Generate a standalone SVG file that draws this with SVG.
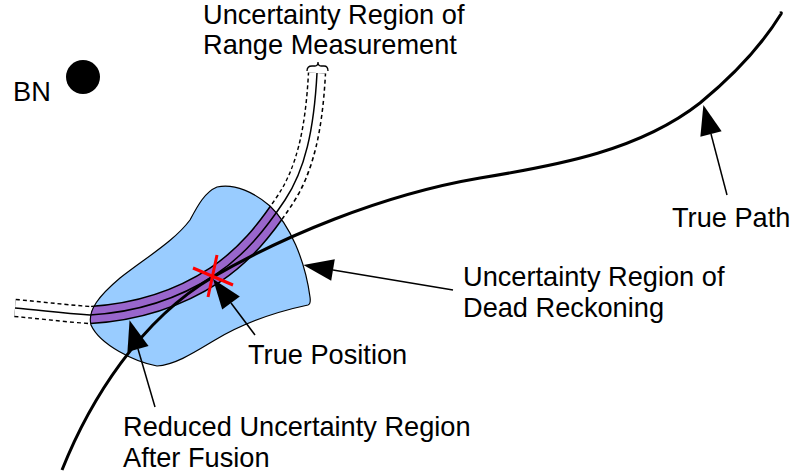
<svg xmlns="http://www.w3.org/2000/svg" width="794" height="476" viewBox="0 0 794 476">
<style>
text { font-family: "Liberation Sans", Arial, sans-serif; font-size: 27.2px; fill: #000; }
.lead { stroke: #000; stroke-width: 1.5; fill: none; marker-end: url(#tri); }
</style>
<defs>
<marker id="tri" markerUnits="userSpaceOnUse" markerWidth="32" markerHeight="24" refX="0" refY="11" orient="auto" overflow="visible">
<path d="M0,0 L30,11 L0,22 Z" fill="#000"/>
</marker>
<path id="blobShape" d="M 217,187 C 235,183 255,193 270,206 C 290,225 305,260 310,297 Q 311,304 308,305 C 275,312 245,322 215,340 C 195,352 175,365 157,366 C 135,362 100,345 91,325 C 87,310 100,295 120,278 C 150,255 175,240 190,220 C 198,205 205,192 217,187 Z"/>
<path id="rangeCurve" d="M 15,308 C 40,310 60,313 90,315 C 140,312 180,298 215,275 C 245,255 265,230 285,200 C 305,170 314,130 317,73"/>
<clipPath id="blobClip"><use href="#blobShape"/></clipPath>
</defs>

<g id="range-measurement">
<use href="#rangeCurve" fill="none" stroke="#000" stroke-width="18.5" stroke-dasharray="4 3"/>
<use href="#rangeCurve" fill="none" stroke="#fff" stroke-width="15.5"/>
<use href="#rangeCurve" fill="none" stroke="#000" stroke-width="1.5"/>
<path d="M 307,71 Q 307,66 312,66 L 315,66 Q 318,66 318,62 Q 318,66 321,66 L 324,66 Q 328,66 328,71" fill="none" stroke="#000" stroke-width="1.3"/>
</g>

<g id="dead-reckoning-region">
<use href="#blobShape" fill="#99ccff"/>
</g>

<g id="fused-region" clip-path="url(#blobClip)">
<use href="#rangeCurve" fill="none" stroke="#000" stroke-width="18.5"/>
<use href="#rangeCurve" fill="none" stroke="#9966cc" stroke-width="15.5"/>
<use href="#rangeCurve" fill="none" stroke="#000" stroke-width="1.5"/>
</g>

<g id="dead-reckoning-outline">
<use href="#blobShape" fill="none" stroke="#000" stroke-width="1.2"/>
</g>

<g id="true-path">
<path d="M 62,470 C 90,400 140,320 213,277 C 280,238 380,195 480,178 C 560,165 640,150 700,103 C 740,70 765,40 781,14 Q 782,12 780,13" fill="none" stroke="#000" stroke-width="3"/>
</g>

<g id="true-position">
<line x1="193" y1="268" x2="233" y2="285" stroke="#ff0000" stroke-width="3"/>
<line x1="217" y1="255" x2="208" y2="297" stroke="#ff0000" stroke-width="3"/>
</g>

<g id="bn">
<circle cx="83" cy="77" r="17" fill="#000"/>
<text x="13" y="101">BN</text>
</g>

<g id="connectors">
<line class="lead" x1="727" y1="195" x2="711" y2="134"/>
<line class="lead" x1="453" y1="290" x2="333" y2="270"/>
<line class="lead" x1="255" y1="335" x2="231" y2="303"/>
<line class="lead" x1="155" y1="407" x2="138" y2="349"/>
</g>

<g id="labels">
<text x="203" y="24">Uncertainty Region of</text>
<text x="203" y="54">Range Measurement</text>
<text x="672" y="227">True Path</text>
<text x="463" y="286">Uncertainty Region of</text>
<text x="463" y="317">Dead Reckoning</text>
<text x="248" y="364">True Position</text>
<text x="123" y="436">Reduced Uncertainty Region</text>
<text x="123" y="467">After Fusion</text>
</g>
</svg>
